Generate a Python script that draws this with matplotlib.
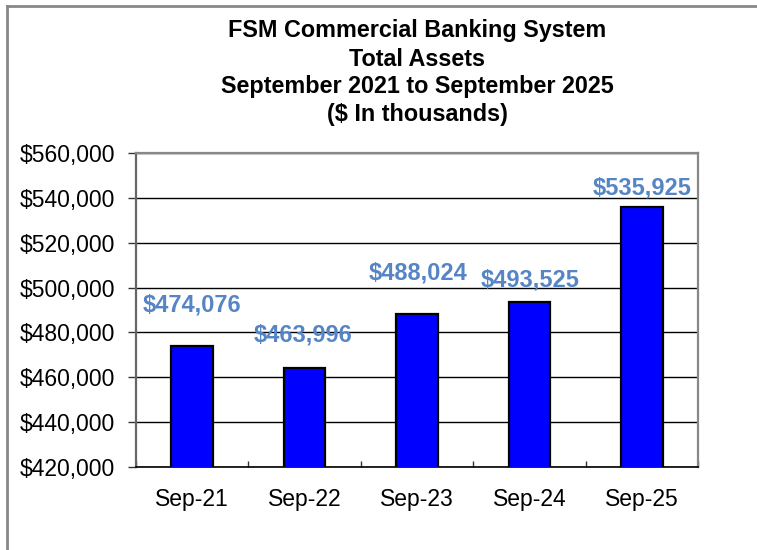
import numpy as np
import matplotlib
matplotlib.use("Agg")
import matplotlib.pyplot as plt
from matplotlib.lines import Line2D
from matplotlib.ticker import FuncFormatter

# data
periods = ["Sep-21", "Sep-22", "Sep-23", "Sep-24", "Sep-25"]
total_assets = [474076, 463996, 488024, 493525, 535925]

title_lines = [
    "FSM Commercial Banking System",
    "Total Assets",
    "September 2021 to September 2025",
    "($ In thousands)",
]

# manual label placement (pixels above bar top), as in the original
label_dy = [41, 33, 41, 22, 19]
label_dx = [0, -2, 1, 1, 0]

plt.rcParams['font.family'] = ['Liberation Sans', 'DejaVu Sans']

fig = plt.figure(figsize=(7.57, 5.5), dpi=100)
ax = fig.add_axes([136 / 757, 83 / 550, 562 / 757, 314 / 550])

x = np.arange(len(periods))
ax.bar(x, total_assets, width=0.37, color="#0000FF", edgecolor="black",
       linewidth=1.6, zorder=3)

ax.set_ylim(420000, 560000)
ax.set_xlim(-0.5, len(periods) - 0.5)
ax.set_yticks(np.arange(420000, 560001, 20000))
ax.yaxis.set_major_formatter(FuncFormatter(lambda v, p: "${:,.0f}".format(v)))
ax.tick_params(axis="y", direction="out", length=6, width=1, color="#333333",
               labelsize=16.5, pad=9)
ax.grid(axis="y", color="black", linewidth=1, zorder=0)

# category boundary ticks (inside) + labels at centres
ax.set_xticks(np.arange(-0.5, len(periods), 1.0))
ax.set_xticklabels([])
ax.tick_params(axis="x", which="major", direction="in", length=4, width=1,
               color="#333333")
ax.set_xticks(x, minor=True)
ax.set_xticklabels(periods, minor=True)
ax.tick_params(axis="x", which="minor", length=0, labelsize=16.5, pad=15)

for side in ["left", "top", "right"]:
    ax.spines[side].set_color("#888888")
    ax.spines[side].set_linewidth(1.6)
ax.spines["left"].set_color("#666666")
ax.spines["bottom"].set_color("black")
ax.spines["bottom"].set_linewidth(1.2)

for i, v in enumerate(total_assets):
    ax.annotate("${:,}".format(v), xy=(x[i], v),
                xytext=(label_dx[i] * 0.72, label_dy[i] * 0.72),
                textcoords="offset points", ha="center", va="center",
                fontsize=17, fontweight="bold", color="#5585C5", zorder=4)

title_x = (136 + 562 / 2) / 757
for k, line in enumerate(title_lines):
    fig.text(title_x, 1 - (31 + 28 * k) / 550, line, ha="center", va="center",
             fontsize=16.8, fontweight="bold")

# outer chart frame (left and top edges visible)
fig.add_artist(Line2D([7 / 757, 7 / 757], [0, 1 - 6 / 550],
                      transform=fig.transFigure, color="#888888", linewidth=2))
fig.add_artist(Line2D([7 / 757, 1], [1 - 6 / 550, 1 - 6 / 550],
                      transform=fig.transFigure, color="#888888", linewidth=2))

fig.savefig("out.png", dpi=100)
